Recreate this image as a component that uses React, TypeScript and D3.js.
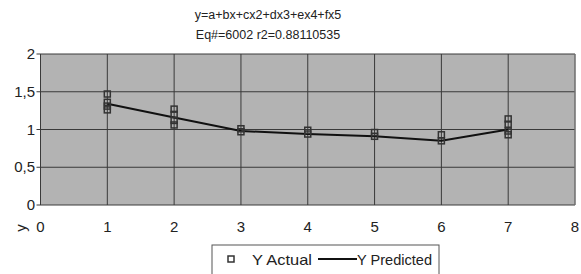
import React from 'react';
import * as d3 from 'd3';

const xTicks = [0, 1, 2, 3, 4, 5, 6, 7, 8];
const yTicks = [0, 0.5, 1, 1.5, 2];
const yTickLabels = ['0', '0,5', '1', '1,5', '2'];
const actualX = [1, 1, 1, 1, 2, 2, 2, 2, 3, 3, 4, 4, 5, 5, 6, 6, 7, 7, 7, 7];
const actualY = [1.47, 1.36, 1.31, 1.26, 1.27, 1.2, 1.12, 1.06, 1.01, 0.97, 0.99, 0.94, 0.96, 0.91, 0.93, 0.85, 1.14, 1.07, 0.98, 0.93];
const predX = [1, 2, 3, 4, 5, 6, 7];
const predY = [1.34, 1.16, 0.98, 0.94, 0.91, 0.85, 1.0];
const titleLines = ['y=a+bx+cx2+dx3+ex4+fx5', 'Eq#=6002 r2=0.88110535'];

const W = 581;
const H = 274;
const font = '"Liberation Sans", Arial, sans-serif';

export default function App() {
  const x = d3.scaleLinear().domain([0, 8]).range([40.5, 575]);
  const y = d3.scaleLinear().domain([0, 2]).range([205, 54]);
  const line = d3.line<number>().x((d, i) => x(predX[i])).y(d => y(d));

  return (
    <svg width={W} height={H} style={{ position: 'absolute', left: 0, top: 0, background: '#fff' }}>
      {titleLines.map((t, i) => (
        <text key={t} x={268} y={19 + i * 20} textAnchor="middle" fontFamily={font} fontSize={12.5} fill="#222">{t}</text>
      ))}
      <rect x={x(0)} y={y(2)} width={x(8) - x(0)} height={y(0) - y(2)} fill="#b3b3b3" />
      {yTicks.map(t => (
        <line key={'gy' + t} x1={x(0) - 4} x2={x(8)} y1={y(t)} y2={y(t)} stroke="#3a3a3a" strokeWidth={1} />
      ))}
      {xTicks.map(t => (
        <line key={'gx' + t} x1={x(t)} x2={x(t)} y1={y(2)} y2={y(0)} stroke="#3a3a3a" strokeWidth={1} />
      ))}
      <line x1={x(8)} x2={x(8)} y1={y(2)} y2={y(0)} stroke="#888" strokeWidth={1} />
      {yTicks.map((t, i) => (
        <text key={'ty' + t} x={35} y={y(t) + 5} textAnchor="end" fontFamily={font} fontSize={15} fill="#222">{yTickLabels[i]}</text>
      ))}
      {xTicks.map(t => (
        <text key={'tx' + t} x={x(t)} y={232} textAnchor="middle" fontFamily={font} fontSize={15} fill="#222">{t}</text>
      ))}
      <text transform="translate(26,228) rotate(-90)" textAnchor="middle" fontFamily={font} fontSize={15} fill="#222">y</text>
      <path d={line(predY) || ''} fill="none" stroke="#111" strokeWidth={2} />
      {actualY.map((v, i) => (
        <rect key={'a' + i} x={x(actualX[i]) - 3} y={y(v) - 3} width={6} height={6} fill="none" stroke="#333" strokeWidth={1.5} />
      ))}
      <rect x={212} y={245} width={227} height={40} fill="#fff" stroke="#555" strokeWidth={1} />
      <rect x={228} y={256} width={6} height={6} fill="none" stroke="#333" strokeWidth={1.5} />
      <text x={252} y={265} fontFamily={font} fontSize={14.5} textLength={60} lengthAdjust="spacingAndGlyphs" fill="#222">Y Actual</text>
      <line x1={318} x2={357} y1={259} y2={259} stroke="#111" strokeWidth={2} />
      <text x={357} y={265} fontFamily={font} fontSize={14.5} textLength={75} lengthAdjust="spacingAndGlyphs" fill="#222">Y Predicted</text>
    </svg>
  );
}
